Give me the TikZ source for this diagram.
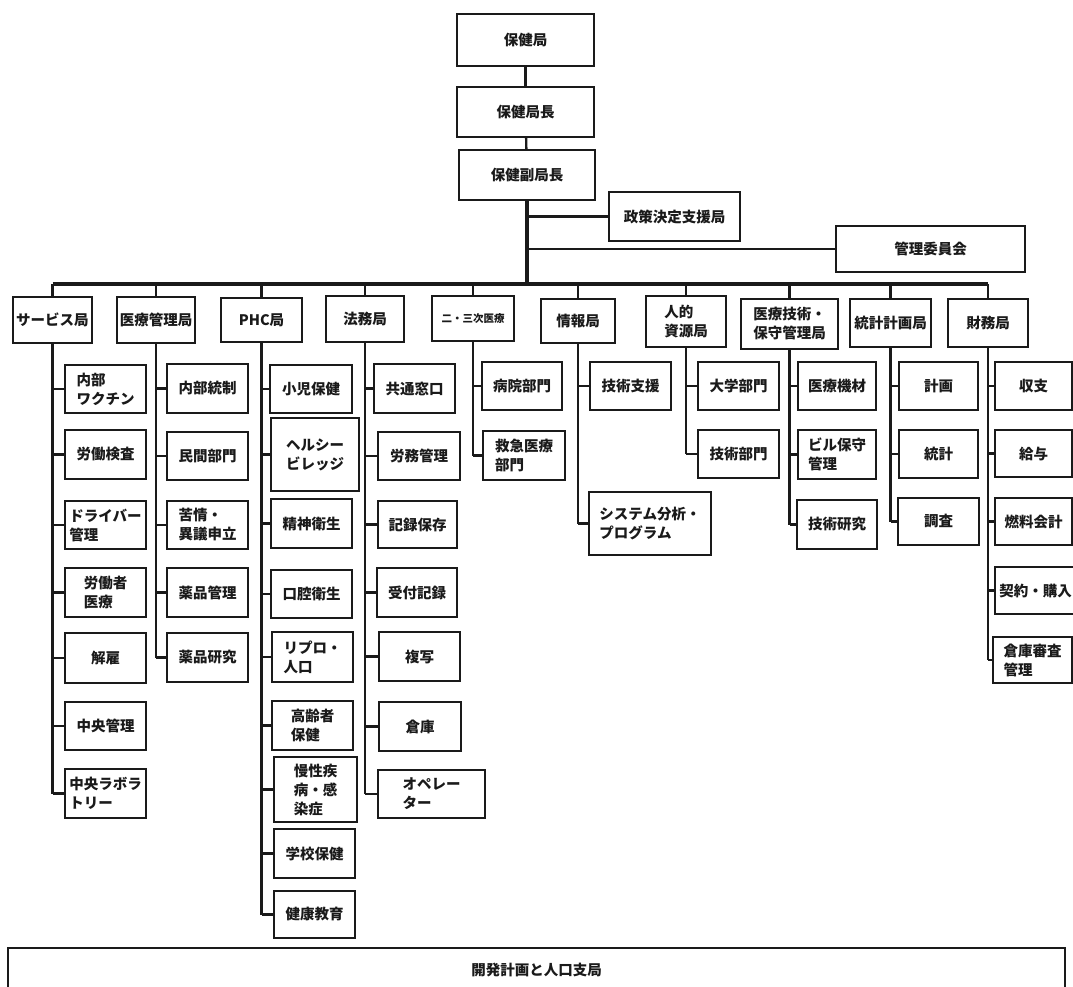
\documentclass[tikz,border=0pt]{standalone}
\usepackage{fontspec}
\newfontfamily\jp{Noto Sans CJK JP}
\definecolor{ink}{HTML}{1A1A1A}
\tikzset{
  box/.style={draw=ink, line width=2pt, inner sep=1pt, align=left, text=ink,
    font=\jp\bfseries\fontsize{14.5}{19}\selectfont},
  conn/.style={draw=ink, line width=2.3pt},
  busline/.style={draw=ink, line width=3.2pt}
}
\newcommand\bx[6]{\node[box, minimum width={(#4)-(#2)}, minimum height={(#5)-(#3)}] (#1) at ({((#2)+(#4))/2},{((#3)+(#5))/2}) {#6};}
\begin{document}
\begin{tikzpicture}[x=1pt,y=-1pt]
\useasboundingbox (0,0) rectangle (1073,987);
\clip (0,0) rectangle (1073,987);
\fill[white] (0,0) rectangle (1073,987);
% top chain
\bx{top1}{457}{14}{594}{66}{保健局}
\bx{top2}{457}{87}{594}{137}{保健局長}
\bx{top3}{459}{150}{595}{200}{保健副局長}
\bx{pol}{609}{192}{740}{241}{政策決定支援局}
\bx{mgt}{836}{226}{1025}{272}{管理委員会}
\coordinate (bus) at (0,284);
% bureaus
\bx{svc}{13}{297}{92}{343}{サービス局}
\bx{med}{117}{297}{195}{343}{医療管理局}
\bx{phc}{221}{298}{302}{342}{PHC局}
\bx{law}{326}{296}{404}{342}{法務局}
\node[box, font=\jp\bfseries\fontsize{10.5}{13}\selectfont, minimum width=82, minimum height=45] (sec) at (473,318.5) {二・三次医療};
\bx{inf}{541}{299}{615}{343}{情報局}
\bx{hr}{646}{296}{726}{347}{人的\\資源局}
\bx{tec}{741}{299}{838}{349}{医療技術・\\保守管理局}
\bx{sta}{850}{299}{931}{347}{統計計画局}
\bx{fin}{948}{299}{1028}{347}{財務局}
% service
\bx{s1}{65}{365}{146}{413}{内部\\ワクチン}
\bx{s2}{65}{430}{146}{479}{労働検査}
\bx{s3}{65}{501}{146}{549}{ドライバー\\管理}
\bx{s4}{65}{568}{146}{617}{労働者\\医療}
\bx{s5}{65}{633}{146}{683}{解雇}
\bx{s6}{65}{702}{146}{750}{中央管理}
\bx{s7}{65}{769}{146}{818}{中央ラボラ\\トリー}
% medical management
\bx{m1}{167}{364}{248}{413}{内部統制}
\bx{m2}{167}{432}{248}{480}{民間部門}
\bx{m3}{167}{501}{248}{549}{苦情・\\異議申立}
\bx{m4}{167}{568}{248}{617}{薬品管理}
\bx{m5}{167}{633}{248}{682}{薬品研究}
% PHC
\bx{p1}{270}{365}{352}{413}{小児保健}
\bx{p2}{271}{418}{359}{491}{ヘルシー\\ビレッジ}
\bx{p3}{271}{499}{352}{548}{精神衛生}
\bx{p4}{271}{570}{352}{618}{口腔衛生}
\bx{p5}{272}{632}{353}{682}{リプロ・\\人口}
\bx{p6}{272}{701}{353}{750}{高齢者\\保健}
\bx{p7}{274}{757}{357}{822}{慢性疾\\病・感\\染症}
\bx{p8}{274}{829}{355}{878}{学校保健}
\bx{p9}{274}{891}{355}{938}{健康教育}
% legal
\bx{l1}{374}{364}{455}{413}{共通窓口}
\bx{l2}{378}{432}{460}{480}{労務管理}
\bx{l3}{378}{501}{457}{548}{記録保存}
\bx{l4}{377}{568}{457}{617}{受付記録}
\bx{l5}{379}{632}{460}{681}{複写}
\bx{l6}{379}{702}{461}{751}{倉庫}
\bx{l7}{378}{770}{485}{818}{オペレー\\ター}
% secondary/tertiary
\bx{c1}{482}{362}{562}{410}{病院部門}
\bx{c2}{483}{431}{565}{480}{救急医療\\部門}
% information
\bx{i1}{590}{362}{671}{410}{技術支援}
\bx{i2}{589}{492}{711}{555}{システム分析・\\プログラム}
% human resources
\bx{h1}{698}{362}{779}{410}{大学部門}
\bx{h2}{698}{430}{779}{478}{技術部門}
% technology
\bx{t1}{798}{362}{876}{410}{医療機材}
\bx{t2}{798}{430}{876}{479}{ビル保守\\管理}
\bx{t3}{797}{500}{877}{549}{技術研究}
% statistics
\bx{a1}{899}{362}{978}{410}{計画}
\bx{a2}{899}{430}{978}{478}{統計}
\bx{a3}{898}{498}{979}{545}{調査}
% finance
\bx{f1}{995}{362}{1072}{410}{収支}
\bx{f2}{995}{430}{1072}{477}{給与}
\bx{f3}{995}{498}{1072}{545}{燃料会計}
\bx{f4}{995}{567}{1076}{614}{契約・購入}
\bx{f5}{993}{637}{1072}{683}{倉庫審査\\管理}
% bottom
\node[box, minimum width=1057, minimum height=44, anchor=north] (dev) at (536.5,947) {開発計画と人口支局};
% connectors: top
\draw[conn] (top1) -- (top2);
\draw[conn] (top2) -- (top3);
\draw[busline] (top3.south) -- (top3.south |- bus);
\draw[conn] (top3.south |- pol.west) -- (pol.west);
\draw[conn] (top3.south |- mgt.west) -- (mgt.west);
\draw[busline] (svc.north |- bus) -- (fin.north |- bus);
\foreach \n in {svc,med,phc,law,sec,inf,hr,tec,sta,fin}
  \draw[conn] (\n.north) -- (\n.north |- bus);
% connectors: children
\draw[conn] (svc.south) -- (svc.south |- s7.west);
\foreach \c in {s1,s2,s3,s4,s5,s6,s7} \draw[conn] (svc.south |- \c.west) -- (\c.west);
\draw[conn] (med.south) -- (med.south |- m5.west);
\foreach \c in {m1,m2,m3,m4,m5} \draw[conn] (med.south |- \c.west) -- (\c.west);
\draw[conn] (phc.south) -- (phc.south |- p9.west);
\foreach \c in {p1,p2,p3,p4,p5,p6,p7,p8,p9} \draw[conn] (phc.south |- \c.west) -- (\c.west);
\draw[conn] (law.south) -- (law.south |- l7.west);
\foreach \c in {l1,l2,l3,l4,l5,l6,l7} \draw[conn] (law.south |- \c.west) -- (\c.west);
\draw[conn] (sec.south) -- (sec.south |- c2.west);
\foreach \c in {c1,c2} \draw[conn] (sec.south |- \c.west) -- (\c.west);
\draw[conn] (inf.south) -- (inf.south |- i2.west);
\foreach \c in {i1,i2} \draw[conn] (inf.south |- \c.west) -- (\c.west);
\draw[conn] (hr.south) -- (hr.south |- h2.west);
\foreach \c in {h1,h2} \draw[conn] (hr.south |- \c.west) -- (\c.west);
\draw[conn] (tec.south) -- (tec.south |- t3.west);
\foreach \c in {t1,t2,t3} \draw[conn] (tec.south |- \c.west) -- (\c.west);
\draw[conn] (sta.south) -- (sta.south |- a3.west);
\foreach \c in {a1,a2,a3} \draw[conn] (sta.south |- \c.west) -- (\c.west);
\draw[conn] (fin.south) -- (fin.south |- f5.west);
\foreach \c in {f1,f2,f3,f4,f5} \draw[conn] (fin.south |- \c.west) -- (\c.west);
\end{tikzpicture}
\end{document}
